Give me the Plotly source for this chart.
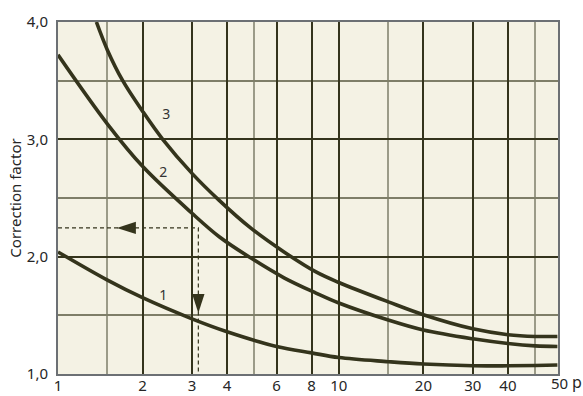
import numpy as np
import plotly.graph_objects as go

# ---- data ----
x_curve1 = [1, 1.5, 2, 3, 4, 6, 8, 10, 15, 20, 30, 40, 50, 60]
y_curve1 = [2.04, 1.80, 1.65, 1.47, 1.36, 1.235, 1.18, 1.14, 1.105, 1.085, 1.07, 1.07, 1.073, 1.077]

x_curve2 = [1, 1.5, 2, 3, 3.75, 4.85, 6.38, 8.29, 10, 15, 20, 30, 40, 50, 60]
y_curve2 = [3.72, 3.13, 2.77, 2.37, 2.17, 1.99, 1.82, 1.69, 1.605, 1.46, 1.375, 1.30, 1.26, 1.24, 1.235]

x_curve3 = [1.37, 1.5, 1.7, 2, 2.36, 3, 3.75, 4.85, 6.38, 8.29, 10, 15, 20, 30, 40, 50, 60]
y_curve3 = [4.0, 3.76, 3.5, 3.24, 3.0, 2.71, 2.48, 2.245, 2.04, 1.87, 1.78, 1.615, 1.505, 1.385, 1.335, 1.32, 1.32]

curve_labels = ["1", "2", "3"]
label_x = [2.37, 2.37, 2.43]
label_y = [1.66, 2.71, 3.20]

example_p = 3.16
example_factor = 2.245
arrow_x = [1.62, example_p]
arrow_y = [example_factor, 1.52]

x_tickvals = [1, 2, 3, 4, 6, 8, 10, 20, 30, 40]
x_ticktext = ["1", "2", "3", "4", "6", "8", "10", "20", "30", "40"]
x_minor = [1.5, 5, 15, 50]
y_tickvals = [1, 2, 3, 4]
y_ticktext = ["1,0", "2,0", "3,0", "4,0"]
y_minor = [1.5, 2.5, 3.5]

x_max = 60.3

FONT = "Noto Sans"
DARK = "#34341c"
TXT = "#262626"

fig = go.Figure()

for xs, ys in [(x_curve1, y_curve1), (x_curve2, y_curve2), (x_curve3, y_curve3)]:
    fig.add_trace(go.Scatter(x=xs, y=ys, mode="lines",
                             line=dict(color=DARK, width=3.6, shape="spline", smoothing=1.0),
                             hoverinfo="skip", showlegend=False))

# dashed reading lines
fig.add_trace(go.Scatter(x=[1, example_p, example_p], y=[example_factor, example_factor, 1.0],
                         mode="lines", line=dict(color=DARK, width=1.2, dash="4px,3px"),
                         showlegend=False, hoverinfo="skip"))
# arrowheads
fig.add_trace(go.Scatter(x=arrow_x, y=arrow_y, mode="markers",
                         marker=dict(symbol="arrow", size=20, color=DARK,
                                     angle=[-90, 180], line=dict(width=0)),
                         showlegend=False, hoverinfo="skip", cliponaxis=False))

# curve numbers
fig.add_trace(go.Scatter(x=label_x, y=label_y, mode="text", text=curve_labels,
                         textfont=dict(family=FONT, size=14, color="#333333"),
                         showlegend=False, hoverinfo="skip"))

fig.update_layout(
    width=583, height=396,
    margin=dict(l=58, r=25, t=22, b=22),
    paper_bgcolor="white",
    plot_bgcolor="#f4f2e4",
    font=dict(family=FONT, size=15, color=TXT),
    xaxis=dict(type="log", range=[0, np.log10(x_max)], automargin=False,
               tickmode="array", tickvals=x_tickvals, ticktext=x_ticktext,
               showgrid=True, gridcolor=DARK, gridwidth=2,
               minor=dict(tickmode="array", tickvals=x_minor, showgrid=True,
                          gridcolor="#9b9b88", gridwidth=1.5, ticks=""),
               showline=True, linecolor="#6c7074", linewidth=2, mirror=True,
               ticks="", ticklabelstandoff=-3, zeroline=False,
               tickfont=dict(family=FONT, size=15, color=TXT)),
    yaxis=dict(range=[1, 4], tickmode="array", tickvals=y_tickvals, ticktext=y_ticktext,
               automargin=False,
               showgrid=True, gridcolor=DARK, gridwidth=2,
               minor=dict(tickmode="array", tickvals=y_minor, showgrid=True,
                          gridcolor="#7e7e68", gridwidth=1.5, ticks=""),
               showline=True, linecolor="#6c7074", linewidth=2, mirror=True,
               ticks="", ticklabelstandoff=5, zeroline=False,
               title=dict(text="Correction factor", standoff=2,
                          font=dict(family=FONT, size=15, color=TXT)),
               tickfont=dict(family=FONT, size=15, color=TXT)),
    annotations=[
        dict(xref="paper", yref="paper", x=1, y=0, yanchor="top", xanchor="center",
             xshift=1, yshift=3, text="50", showarrow=False,
             font=dict(family=FONT, size=15, color=TXT)),
        dict(xref="paper", yref="paper", x=1, y=0, yanchor="top", xanchor="center",
             xshift=19, yshift=5, text="p", showarrow=False,
             font=dict(family=FONT, size=16, color=TXT)),
    ],
)

fig.write_html("out.html", config={"displayModeBar": False},
               post_script="document.body.style.margin='0';")
